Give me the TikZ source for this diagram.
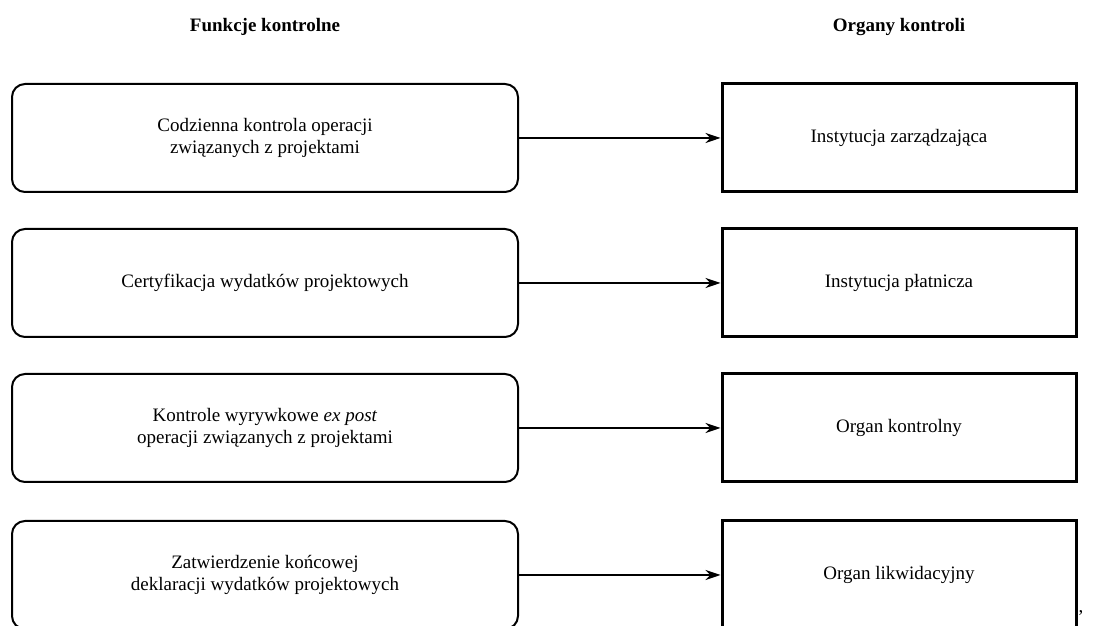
\documentclass[tikz,border=0pt]{standalone}
\usepackage{fontspec}
\setmainfont{Liberation Serif}
\usetikzlibrary{arrows.meta}
\tikzset{>={Stealth[length=7.5pt,width=5pt]}}

\begin{document}
\begin{tikzpicture}[x=0.5pt,y=0.5pt,
    font=\fontsize{9.5}{11.3}\selectfont,
    naglowek/.style={font=\fontsize{9.5}{11.3}\selectfont\bfseries},
    funkcja/.style={draw, line width=1pt, rounded corners=6.5pt, minimum width=253pt, minimum height=54pt, align=center, inner sep=0pt},
    organ/.style={draw, line width=1.5pt, minimum width=177pt, minimum height=54pt, align=center, inner sep=0pt}]
    \useasboundingbox (0,0) rectangle (1093,626);
    \clip (0,0) rectangle (1093,626);
    \node[naglowek] (T1) at (265,599) {Funkcje kontrolne};
    \node[naglowek] (T2) at (899,599) {Organy kontroli};
    \node[funkcja] (F1) at (265,488) {Codzienna kontrola operacji\\związanych z projektami};
    \node[funkcja] (F2) at (265,343) {Certyfikacja wydatków projektowych};
    \node[funkcja] (F3) at (265,198) {Kontrole wyrywkowe \textit{ex post}\\operacji związanych z projektami};
    \node[funkcja] (F4) at (265,51) {Zatwierdzenie końcowej\\deklaracji wydatków projektowych};
    \node[organ] (O1) at (899,488) {Instytucja zarządzająca};
    \node[organ] (O2) at (899,343) {Instytucja płatnicza};
    \node[organ] (O3) at (899,198) {Organ kontrolny};
    \node[organ] (O4) at (899,51) {Organ likwidacyjny};
    \foreach \i in {1,...,4}
    \draw[->, line width=0.6pt] (F\i) -- (O\i);
    \node[anchor=base] (K) at (1081,13) {,};
\end{tikzpicture}
\end{document}
